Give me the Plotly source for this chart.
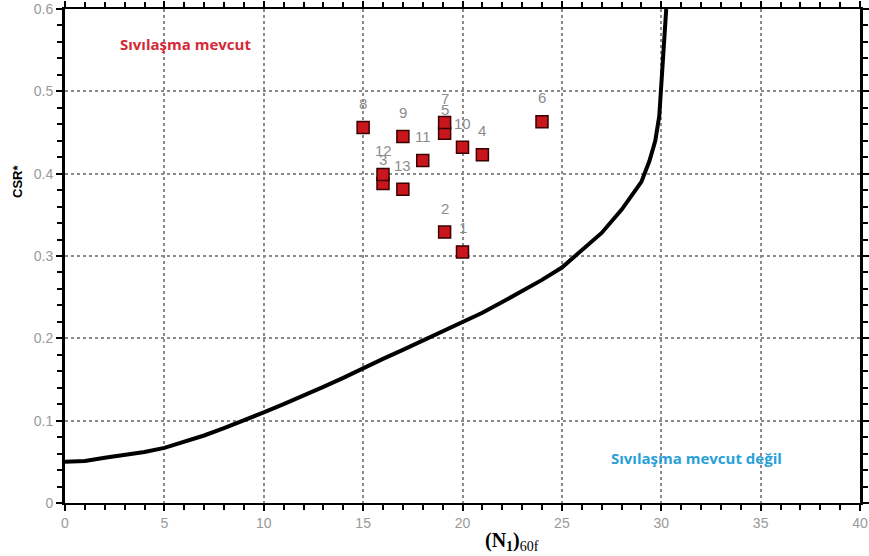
import plotly.graph_objects as go

# Data points (N1)60f vs CSR*
point_labels = ["1", "2", "3", "4", "5", "6", "7", "8", "9", "10", "11", "12", "13"]
point_n = [20.0, 19.1, 16.0, 21.0, 19.1, 24.0, 19.1, 15.0, 17.0, 20.0, 18.0, 16.0, 17.0]
point_csr = [0.305, 0.329, 0.388, 0.423, 0.449, 0.463, 0.462, 0.456, 0.445, 0.432, 0.416, 0.399, 0.381]

# Boundary curve
curve_n = [0, 1, 2, 3, 4, 5, 6, 7, 8, 9, 10, 11, 12, 13, 14, 15, 16, 17, 18, 19, 20,
           21, 22, 23, 24, 25, 26, 27, 28, 28.5, 29, 29.4, 29.7, 29.9, 30.0, 30.1, 30.25]
curve_csr = [0.050, 0.051, 0.055, 0.058, 0.062, 0.067, 0.074, 0.082, 0.091, 0.100, 0.110,
             0.120, 0.130, 0.141, 0.152, 0.164, 0.175, 0.186, 0.197, 0.208, 0.219,
             0.231, 0.244, 0.257, 0.271, 0.286, 0.307, 0.328, 0.356, 0.372, 0.390,
             0.415, 0.440, 0.470, 0.510, 0.550, 0.600]

x_ticks = [0, 5, 10, 15, 20, 25, 30, 35, 40]
y_ticks = [0, 0.1, 0.2, 0.3, 0.4, 0.5, 0.6]
y_tick_text = ["0", "0.1", "0.2", "0.3", "0.4", "0.5", "0.6"]

fig = go.Figure()
fig.add_trace(go.Scatter(x=curve_n, y=curve_csr, mode="lines",
                         line=dict(color="black", width=4), hoverinfo="skip"))
fig.add_trace(go.Scatter(x=point_n, y=point_csr, mode="markers",
                         marker=dict(symbol="square", size=12, color="#c8161c",
                                     line=dict(color="#3a0000", width=1.5))))

annotations = []
for lab, xv, yv in zip(point_labels, point_n, point_csr):
    annotations.append(dict(x=xv, y=yv, xref="x", yref="y", text=lab, showarrow=False,
                            yshift=24, font=dict(family="Liberation Sans", size=15, color="#8c8c8c")))

annotations += [
    dict(x=2.66, y=0.557, xref="x", yref="y", text="<b>Sıvılaşma mevcut</b>", showarrow=False,
         xanchor="left", yanchor="middle", font=dict(family="Open Sans", size=15, color="#d42a36")),
    dict(x=27.35, y=0.055, xref="x", yref="y", text="<b>Sıvılaşma mevcut değil</b>", showarrow=False,
         xanchor="left", yanchor="middle", font=dict(family="Open Sans", size=15, color="#2aa0d8")),
    dict(x=0.562, y=-0.077, xref="paper", yref="paper",
         text="<b>(N<sub>1</sub>)</b><sub>60f</sub>", showarrow=False,
         xanchor="center", yanchor="middle", font=dict(family="Liberation Serif", size=20, color="black")),
    dict(x=-0.059, y=0.65, xref="paper", yref="paper", text="<b>CSR*</b>", showarrow=False,
         textangle=-90, xanchor="center", yanchor="middle",
         font=dict(family="Liberation Sans", size=13, color="black")),
]

fig.update_layout(
    width=869, height=556,
    margin=dict(l=65, r=0, t=9, b=53),
    paper_bgcolor="white", plot_bgcolor="white",
    showlegend=False,
    annotations=annotations,
    xaxis=dict(range=[0, 40], tickmode="array", tickvals=x_ticks, ticktext=[str(v) for v in x_ticks],
               showgrid=True, gridcolor="#8a8a8a", griddash="dot", gridwidth=1.5,
               showline=True, linecolor="black", linewidth=2, mirror="ticks",
               ticks="outside", ticklen=6, tickwidth=1.5, tickcolor="black",
               minor=dict(dtick=1, ticks="outside", ticklen=5, tickwidth=1.5, tickcolor="black", showgrid=False),
               tickfont=dict(family="Liberation Sans Narrow, Liberation Sans", size=14, color="#999999"),
               zeroline=False, fixedrange=True),
    yaxis=dict(range=[0, 0.6], tickmode="array", tickvals=y_ticks, ticktext=y_tick_text,
               showgrid=True, gridcolor="#8a8a8a", griddash="dot", gridwidth=1.5,
               showline=True, linecolor="black", linewidth=3, mirror="ticks",
               ticks="outside", ticklen=6, tickwidth=1.5, tickcolor="black",
               minor=dict(dtick=0.02, ticks="outside", ticklen=5, tickwidth=1.5, tickcolor="black", showgrid=False),
               tickfont=dict(family="Liberation Sans Narrow, Liberation Sans", size=14, color="#999999"),
               zeroline=False, fixedrange=True),
)

fig.write_html("out.html")
